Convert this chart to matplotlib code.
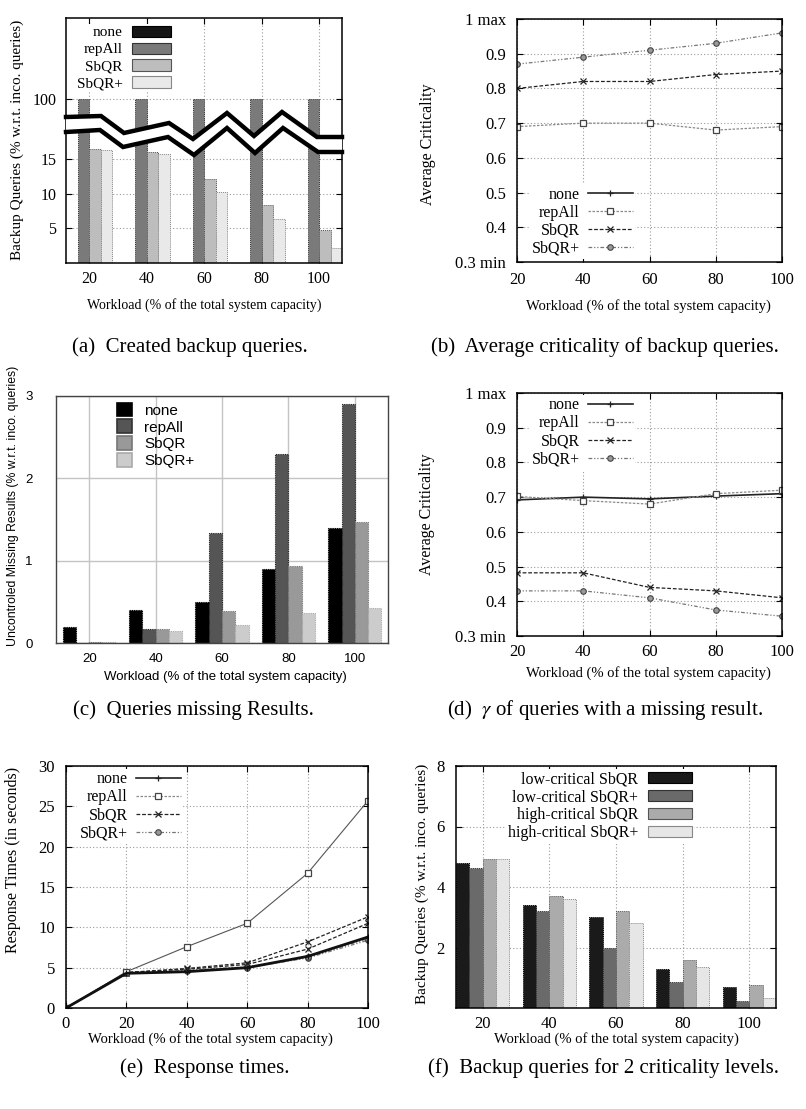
import numpy as np
import matplotlib
matplotlib.use('Agg')
import matplotlib.pyplot as plt
from matplotlib.patches import Patch, Polygon
from matplotlib.lines import Line2D

# ---------------- data ----------------
workload = [20, 40, 60, 80, 100]
methods = ['none', 'repAll', 'SbQR', 'SbQR+']

# (a) created backup queries (%)
a_none = [0, 0, 0, 0, 0]
a_repall = [100, 100, 100, 100, 100]
a_sbqr = [16.4, 16.0, 12.1, 8.3, 4.8]
a_sbqrp = [16.3, 15.7, 10.2, 6.3, 2.1]

# (b) average criticality of backup queries
b_none = [np.nan, np.nan, np.nan, np.nan, np.nan]
b_repall = [0.69, 0.70, 0.70, 0.68, 0.69]
b_sbqr = [0.80, 0.82, 0.82, 0.84, 0.85]
b_sbqrp = [0.87, 0.89, 0.91, 0.93, 0.96]

# (c) uncontrolled missing results (%)
c_none = [0.20, 0.40, 0.50, 0.90, 1.40]
c_repall = [0.0, 0.17, 1.34, 2.30, 2.90]
c_sbqr = [0.015, 0.17, 0.39, 0.94, 1.47]
c_sbqrp = [0.01, 0.14, 0.22, 0.36, 0.43]

# (d) criticality of queries with a missing result
d_none = [0.692, 0.700, 0.695, 0.703, 0.710]
d_repall = [0.702, 0.690, 0.680, 0.710, 0.720]
d_sbqr = [0.482, 0.482, 0.440, 0.430, 0.410]
d_sbqrp = [0.430, 0.430, 0.410, 0.375, 0.357]

# (e) response times (s)
e_workload = [0, 20, 40, 60, 80, 100]
e_none = [0, 4.3, 4.5, 5.0, 6.4, 8.8]
e_repall = [0, 4.5, 7.6, 10.5, 16.7, 25.7]
e_sbqr = [0, 4.4, 4.9, 5.6, 8.2, 11.3]
e_sbqr_b = [0, 4.4, 4.8, 5.4, 7.3, 10.5]
e_sbqrp = [0, 4.3, 4.7, 5.1, 6.3, 8.6]
e_sbqrp_b = [0, 4.3, 4.6, 5.0, 6.2, 8.4]

# (f) backup queries for 2 criticality levels (%)
f_labels = ['low-critical SbQR', 'low-critical SbQR+', 'high-critical SbQR', 'high-critical SbQR+']
f_low_sbqr = [4.80, 3.40, 3.00, 1.30, 0.69]
f_low_sbqrp = [4.62, 3.21, 2.00, 0.86, 0.24]
f_high_sbqr = [4.91, 3.70, 3.21, 1.59, 0.75]
f_high_sbqrp = [4.91, 3.60, 2.80, 1.35, 0.33]

# ---------------- style ----------------
SERIF = ['Liberation Serif', 'DejaVu Serif']
SANS = ['Liberation Sans', 'DejaVu Sans']
plt.rcParams['font.family'] = SERIF
plt.rcParams['mathtext.fontset'] = 'stix'

W, H = 806, 1109
fig = plt.figure(figsize=(W / 100, H / 100), dpi=100)


def box(l, t, r, b):
    return [l / W, 1 - b / H, (r - l) / W, (b - t) / H]


def ftxt(x, y, s, **kw):
    kw.setdefault('ha', 'center')
    kw.setdefault('va', 'center')
    fig.text(x / W, 1 - y / H, s, **kw)


def fpt(x, y):
    return (x / W, 1 - y / H)


GRID = dict(color='#9a9a9a', linestyle=(0, (1, 2)), linewidth=0.8)


def gp_axes(ax, tick_fs=12, xpad=7, ypad=6):
    ax.tick_params(direction='in', top=True, right=True, length=4, width=0.8,
                   labelsize=tick_fs)
    ax.tick_params(axis='x', pad=xpad)
    ax.tick_params(axis='y', pad=ypad)
    for s in ax.spines.values():
        s.set_linewidth(1.1)
    ax.set_axisbelow(True)


def white_legend(lg):
    lg.get_frame().set_edgecolor('none')
    lg.get_frame().set_facecolor('white')
    lg.get_frame().set_alpha(1)
    lg._legend_box.align = 'right'


# line styles (gnuplot-like)
LS = {
    'none': dict(color='#222222', linestyle='-', linewidth=1.2, marker='+', markersize=5,
                 markeredgewidth=0.9),
    'repAll': dict(color='#8a8a8a', linestyle=(0, (2, 1.2)), linewidth=0.9, marker='s',
                   markersize=4, markerfacecolor='white', markeredgecolor='#444444',
                   markeredgewidth=0.9),
    'SbQR': dict(color='#222222', linestyle=(0, (3, 1.5)), linewidth=0.9, marker='x',
                 markersize=4, markeredgewidth=0.9),
    'SbQR+': dict(color='#777777', linestyle=(0, (3, 1.5, 1, 1.5, 1, 1.5)), linewidth=0.9,
                  marker='o', markersize=4, markerfacecolor='#999999',
                  markeredgecolor='#444444', markeredgewidth=0.8),
}

# ================= (a) =================
axa = fig.add_axes(box(66, 18, 342, 263))
C = 0.0456


def fwd(v):
    v = np.asarray(v, float)
    return np.where(v <= 20, v, 20 + (v - 20) * C)


def inv(u):
    u = np.asarray(u, float)
    return np.where(u <= 20, u, 20 + (u - 20) / C)


axa.set_yscale('function', functions=(fwd, inv))
a_series = [a_none, a_repall, a_sbqr, a_sbqrp]
a_colors = ['#151515', '#7a7a7a', '#bdbdbd', '#e9e9e9']
a_edges = ['#000000', '#333333', '#555555', '#888888']
offs = [-6, -2, 2, 6]
for vals, col, ec, off in zip(a_series, a_colors, a_edges, offs):
    axa.bar([w + off for w in workload], vals, width=4, color=col, edgecolor=ec,
            linewidth=0.7, linestyle=(0, (1, 1)), zorder=2)
axa.set_xlim(12, 108)
axa.set_ylim(0, float(inv(35.35)))
axa.set_xticks(workload)
axa.set_yticks([5, 10, 15, 100])
axa.set_yticklabels(['5', '10', '15', '100'])
axa.minorticks_off()
axa.grid(True, **GRID)
gp_axes(axa, tick_fs=11.5, xpad=6, ypad=7)

# broken-axis zigzag decoration (axes-fraction coordinates)
zig_up_px = [(66, 117), (101, 116), (124, 133), (169, 123), (193, 139), (227, 113),
             (254, 136), (282, 112), (317, 137), (342, 137)]
zig_lo_px = [(66, 132), (100, 130), (123, 147), (168, 137), (194, 155), (227, 128),
             (255, 153), (283, 128), (318, 152), (342, 152)]


def to_ax(p):
    return ((p[0] - 66) / 276.0, (263 - p[1]) / 245.0)


up = [to_ax(p) for p in zig_up_px]
lo = [to_ax(p) for p in zig_lo_px]
axa.add_patch(Polygon(up + lo[::-1], closed=True, transform=axa.transAxes,
                      facecolor='white', edgecolor='none', zorder=3))
axa.plot([p[0] for p in up], [p[1] for p in up], transform=axa.transAxes,
         color='black', lw=3.2, zorder=4, solid_joinstyle='miter', clip_on=False)
axa.plot([p[0] for p in lo], [p[1] for p in lo], transform=axa.transAxes,
         color='black', lw=3.2, zorder=4, solid_joinstyle='miter', clip_on=False)

ha = [Patch(facecolor=c, edgecolor=e, linewidth=0.8) for c, e in zip(a_colors, a_edges)]
leg = axa.legend(ha, methods, loc='upper right', bbox_to_anchor=fpt(173, 24),
                 bbox_transform=fig.transFigure, markerfirst=False, frameon=True,
                 fontsize=11, handlelength=2.6, handleheight=0.75, handletextpad=0.6,
                 labelspacing=0.2, borderpad=0.1, borderaxespad=0)
white_legend(leg)
leg.set_zorder(5)

ftxt(17, 140, 'Backup Queries (% w.r.t. inco. queries)', rotation=90, fontsize=11)
ftxt(204, 305, 'Workload (% of the total system capacity)', fontsize=10)
ftxt(190, 347, '(a)  Created backup queries.', fontsize=15)


# ================= (b) and (d) =================
def crit_panel(ax, series, loc_anchor, loc, xpad=7):
    for name, vals in zip(methods, series):
        ax.plot(workload, vals, label=name, **LS[name])
    ax.set_xlim(20, 100)
    ax.set_ylim(0.3, 1.0)
    ax.set_xticks(workload)
    ax.set_yticks([0.3, 0.4, 0.5, 0.6, 0.7, 0.8, 0.9, 1.0])
    ax.set_yticklabels(['0.3 min', '0.4', '0.5', '0.6', '0.7', '0.8', '0.9', '1 max'])
    ax.grid(True, **GRID)
    gp_axes(ax, tick_fs=12, xpad=xpad, ypad=8)
    handles = [Line2D([], [], **LS[n]) for n in methods]
    lg = ax.legend(handles, methods, loc=loc, bbox_to_anchor=fpt(*loc_anchor),
                   bbox_transform=fig.transFigure, markerfirst=False, frameon=True,
                   fontsize=11.5, handlelength=2.8, handletextpad=0.5, numpoints=1,
                   labelspacing=0.12, borderpad=0.15, borderaxespad=0)
    white_legend(lg)
    return lg


axb = fig.add_axes(box(517, 19, 782, 262))
crit_panel(axb, [b_none, b_repall, b_sbqr, b_sbqrp], (635, 259), 'lower right')
ftxt(428, 144, 'Average Criticality', rotation=90, fontsize=11.5)
ftxt(648, 306, 'Workload (% of the total system capacity)', fontsize=10.5)
ftxt(605, 347, '(b)  Average criticality of backup queries.', fontsize=15)

axd = fig.add_axes(box(517, 393, 782, 636))
crit_panel(axd, [d_none, d_repall, d_sbqr, d_sbqrp], (635, 395), 'upper right', xpad=6)
ftxt(427, 514, 'Average Criticality', rotation=90, fontsize=11.5)
ftxt(648, 673, 'Workload (% of the total system capacity)', fontsize=10.5)
ftxt(605, 710, r'(d)  $\gamma$ of queries with a missing result.', fontsize=15)

# ================= (c) =================
axc = fig.add_axes(box(56, 396, 388, 643))
idx = np.arange(len(workload))
c_series = [c_none, c_repall, c_sbqr, c_sbqrp]
c_colors = ['#000000', '#555555', '#999999', '#cccccc']
c_edges = ['#000000', '#222222', '#777777', '#aaaaaa']
coffs = [-0.3, -0.1, 0.1, 0.3]
for vals, col, ec, off in zip(c_series, c_colors, c_edges, coffs):
    axc.bar(idx + off, vals, width=0.2, color=col, edgecolor=ec, linewidth=0.8,
            linestyle=(0, (1, 1)), zorder=2)
axc.set_xlim(-0.5, 4.5)
axc.set_ylim(0, 3)
axc.set_xticks(idx)
axc.set_xticklabels([str(w) for w in workload])
axc.set_yticks([0, 1, 2, 3])
axc.grid(True, color='#c4c4c4', linestyle='-', linewidth=1.0)
axc.set_axisbelow(True)
axc.tick_params(length=0, labelsize=9.5)
axc.tick_params(axis='x', pad=7)
axc.tick_params(axis='y', pad=17)
for lab in axc.get_xticklabels() + axc.get_yticklabels():
    lab.set_family(SANS)
for s in axc.spines.values():
    s.set_color('#444444')
    s.set_linewidth(1.0)
hc = [Patch(facecolor=c, edgecolor=e, linewidth=1.2) for c, e in zip(c_colors, ['#000000', '#333333', '#777777', '#aaaaaa'])]
lgc = axc.legend(hc, methods, loc='upper left', bbox_to_anchor=fpt(115, 401),
                 bbox_transform=fig.transFigure, frameon=False,
                 prop={'family': SANS, 'size': 11}, handlelength=1.0, handleheight=1.0,
                 handletextpad=0.8, labelspacing=0.12, borderpad=0.1, borderaxespad=0)
ftxt(13, 506, 'Uncontroled Missing Results (% w.r.t. inco. queries)', rotation=90,
     fontsize=8.8, family=SANS)
ftxt(225, 677, 'Workload (% of the total system capacity)', fontsize=9.5, family=SANS)
ftxt(193, 710, '(c)  Queries missing Results.', fontsize=15)

# ================= (e) =================
axe = fig.add_axes(box(66, 766, 368, 1008))
LS_e = dict(LS)
LS_e['none'] = dict(LS['none'], linewidth=2.0, color='#111111')
LS_e['repAll'] = dict(LS['repAll'], color='#555555', linestyle='-', linewidth=0.8)
axe.plot(e_workload, e_sbqrp_b, **LS['SbQR+'])
axe.plot(e_workload, e_sbqr_b, **LS['SbQR'])
axe.plot(e_workload, e_sbqrp, **LS['SbQR+'])
axe.plot(e_workload, e_sbqr, **LS['SbQR'])
axe.plot(e_workload, e_repall, **LS_e['repAll'])
axe.plot(e_workload, e_none, **LS_e['none'])
axe.set_xlim(0, 100)
axe.set_ylim(0, 30)
axe.set_xticks([0, 20, 40, 60, 80, 100])
axe.set_yticks([0, 5, 10, 15, 20, 25, 30])
axe.grid(True, **GRID)
gp_axes(axe, tick_fs=12, xpad=6, ypad=8)
he = [Line2D([], [], **LS[n]) for n in methods]
lge = axe.legend(he, methods, loc='upper right', bbox_to_anchor=fpt(183, 769),
                 bbox_transform=fig.transFigure, markerfirst=False, frameon=True,
                 fontsize=11.5, handlelength=2.8, handletextpad=0.5, numpoints=1,
                 labelspacing=0.12, borderpad=0.15, borderaxespad=0)
white_legend(lge)
ftxt(13, 860, 'Response Times (in seconds)', rotation=90, fontsize=11.5)
ftxt(210, 1039, 'Workload (% of the total system capacity)', fontsize=10.5)
ftxt(205, 1068, '(e)  Response times.', fontsize=15)

# ================= (f) =================
axf = fig.add_axes(box(456, 766, 776, 1008))
f_series = [f_low_sbqr, f_low_sbqrp, f_high_sbqr, f_high_sbqrp]
f_colors = ['#1a1a1a', '#6a6a6a', '#ababab', '#e6e6e6']
f_edges = ['#000000', '#333333', '#555555', '#888888']
for vals, col, ec, off in zip(f_series, f_colors, f_edges, coffs):
    axf.bar(idx + off, vals, width=0.2, color=col, edgecolor=ec, linewidth=0.7,
            linestyle=(0, (1, 1)), zorder=2)
axf.set_xlim(-0.4, 4.4)
axf.set_ylim(0, 8)
axf.set_xticks(idx)
axf.set_xticklabels([str(w) for w in workload])
axf.set_yticks([2, 4, 6, 8])
axf.grid(True, **GRID)
gp_axes(axf, tick_fs=12, xpad=6, ypad=8)
hf = [Patch(facecolor=c, edgecolor=e, linewidth=0.8) for c, e in zip(f_colors, f_edges)]
lgf = axf.legend(hf, f_labels, loc='upper right', bbox_to_anchor=fpt(694, 769),
                 bbox_transform=fig.transFigure, markerfirst=False, frameon=True,
                 fontsize=11.5, handlelength=2.75, handleheight=0.7, handletextpad=0.6,
                 labelspacing=0.12, borderpad=0.15, borderaxespad=0)
white_legend(lgf)
ftxt(422, 884, 'Backup Queries (% w.r.t. inco. queries)', rotation=90, fontsize=11)
ftxt(616, 1039, 'Workload (% of the total system capacity)', fontsize=10.5)
ftxt(603, 1068, '(f)  Backup queries for 2 criticality levels.', fontsize=15)

fig.savefig('out.png', dpi=100)
